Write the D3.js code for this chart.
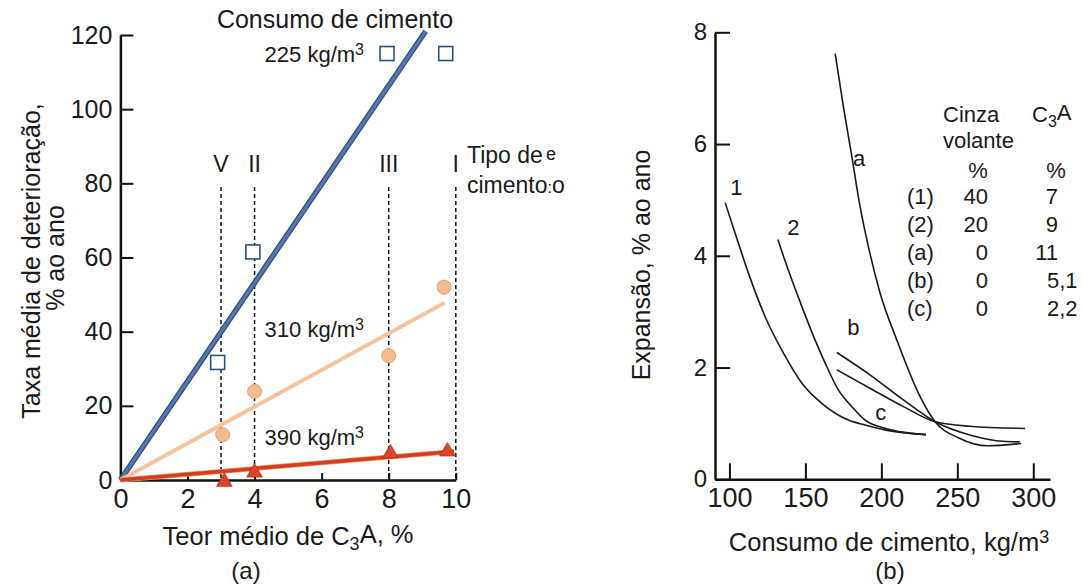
<!DOCTYPE html>
<html>
<head>
<meta charset="utf-8">
<script src="https://cdn.jsdelivr.net/npm/d3@7"></script>
<style>
  body { margin: 0; background: #fff; }
  svg { font-family: "Liberation Sans", Arial, sans-serif; }
  text { fill: #1a1a1a; }
</style>
</head>
<body>
<div id="chart"></div>
<script>
// (a) taxa media de deterioracao x teor de C3A
var c3aTicks = [0, 2, 4, 6, 8, 10];
var rateTicks = [0, 20, 40, 60, 80, 100, 120];
var cementTypes = ["V", "II", "III", "I"];
var cementTypeC3A = [3, 4, 8, 10];
var points225 = [[2.9, 31.7], [3.95, 61.5], [7.95, 115], [9.7, 115]];
var points310 = [[3.05, 12.2], [4.0, 23.9], [8.0, 33.5], [9.65, 52]];
var points390 = [[3.1, -0.5], [4.0, 2], [8.05, 7.2], [9.75, 7.7]];
var fit225 = [[0, 0], [9.1, 121]];
var fit310 = [[0, 0], [9.67, 47.8]];
var fit390 = [[0, 0], [9.95, 7.7]];

// (b) expansao x consumo de cimento
var consumoTicks = [100, 150, 200, 250, 300];
var expansaoTicks = [0, 2, 4, 6, 8];
var curve1 = [[97.2, 4.95], [103.8, 4.4], [112.5, 3.69], [123.5, 2.91], [134.5, 2.31], [147.7, 1.72], [160.8, 1.36], [178.3, 1.06], [189.3, 0.97], [203, 0.88], [229.4, 0.8]];
var curve2 = [[131.9, 4.29], [138.8, 3.74], [147.7, 3.09], [156.4, 2.49], [163, 2.08], [171.7, 1.6], [180.6, 1.3], [189.3, 1.06], [203, 0.91], [215, 0.84], [229.4, 0.8]];
var curveA = [[169.6, 7.62], [175, 6.67], [180.6, 5.77], [186, 4.88], [191.5, 4.16], [199.2, 3.33], [210.2, 2.49], [225.5, 1.48], [235.4, 1.03], [251, 0.74], [270, 0.6], [292, 0.64]];
var curveB = [[170.7, 2.27], [192.5, 1.87], [214.5, 1.42], [235.4, 1.03], [260, 0.78], [280, 0.68], [291, 0.67]];
var curveC = [[170.7, 1.96], [192.5, 1.63], [214.5, 1.3], [235.4, 1.03], [258, 0.95], [294.6, 0.91]];
var curveNames = ["1", "2", "a", "b", "c"];
var tableRows = ["(1)", "(2)", "(a)", "(b)", "(c)"];
var tableCinza = ["40", "20", "0", "0", "0"];
var tableC3A = ["7", "9", "11", "5,1", "2,2"];

var svg = d3.select("#chart").append("svg")
  .attr("width", 1083)
  .attr("height", 588);

function styleAxis(g, size) {
  g.attr("font-family", null).attr("font-size", null);
  g.select(".domain").attr("stroke", "#111").attr("stroke-width", 2.5);
  g.selectAll(".tick line").attr("stroke", "#111").attr("stroke-width", 2);
  g.selectAll(".tick text").attr("fill", "#1a1a1a").style("font-size", size + "px");
}

// ---------- (a) ----------
var xA = d3.scaleLinear().domain([0, 10]).range([120.4, 455.8]);
var yA = d3.scaleLinear().domain([0, 120]).range([480, 35]);

svg.append("g")
  .attr("transform", "translate(" + xA(0) + ",0)")
  .call(d3.axisLeft(yA).tickValues(rateTicks).tickSize(-13).tickSizeOuter(0).tickPadding(8))
  .call(g => styleAxis(g, 25));

svg.append("g")
  .attr("transform", "translate(0," + yA(0) + ")")
  .call(d3.axisBottom(xA).tickValues(c3aTicks).tickSize(-7).tickSizeOuter(0).tickPadding(9))
  .call(g => styleAxis(g, 27));

svg.selectAll(".typeLine")
  .data(cementTypeC3A)
  .enter().append("line")
  .attr("class", "typeLine")
  .attr("x1", d => xA(d)).attr("x2", d => xA(d))
  .attr("y1", yA(79)).attr("y2", yA(0))
  .attr("stroke", "#111")
  .attr("stroke-width", 1.5)
  .attr("stroke-dasharray", "4,3");

svg.selectAll(".typeLabel")
  .data(cementTypes)
  .enter().append("text")
  .attr("class", "typeLabel")
  .attr("x", (d, i) => xA(cementTypeC3A[i]))
  .attr("y", yA(83))
  .attr("text-anchor", "middle")
  .style("font-size", "23px")
  .text(d => d);

var lineA = d3.line().x(d => xA(d[0])).y(d => yA(d[1]));

svg.append("path").datum(fit225).attr("d", lineA)
  .attr("fill", "none").attr("stroke", "#2f4f7f").attr("stroke-width", 5.5);
svg.append("path").datum(fit225).attr("d", lineA)
  .attr("fill", "none").attr("stroke", "#5578aa").attr("stroke-width", 3);
svg.append("path").datum(fit310).attr("d", lineA)
  .attr("fill", "none").attr("stroke", "#f6c39d").attr("stroke-width", 4);
svg.append("path").datum(fit390).attr("d", lineA)
  .attr("fill", "none").attr("stroke", "#e9a14a").attr("stroke-width", 5);
svg.append("path").datum(fit390).attr("d", lineA)
  .attr("fill", "none").attr("stroke", "#d63b2a").attr("stroke-width", 3.5);

svg.selectAll(".sq")
  .data(points225)
  .enter().append("rect")
  .attr("class", "sq")
  .attr("x", d => xA(d[0]) - 7)
  .attr("y", d => yA(d[1]) - 7)
  .attr("width", 14).attr("height", 14)
  .attr("fill", "#fff")
  .attr("stroke", "#2f4f7f")
  .attr("stroke-width", 1.6);

svg.selectAll(".circ")
  .data(points310)
  .enter().append("circle")
  .attr("class", "circ")
  .attr("cx", d => xA(d[0]))
  .attr("cy", d => yA(d[1]))
  .attr("r", 7)
  .attr("fill", "#f3bb8f")
  .attr("stroke", "#dea079")
  .attr("stroke-width", 1);

svg.selectAll(".tri")
  .data(points390)
  .enter().append("path")
  .attr("class", "tri")
  .attr("d", d3.symbol().type(d3.symbolTriangle).size(105))
  .attr("transform", d => "translate(" + xA(d[0]) + "," + yA(d[1]) + ")")
  .attr("fill", "#d9442c")
  .attr("stroke", "#b8321f")
  .attr("stroke-width", 0.8);

svg.append("text")
  .attr("x", 335).attr("y", 28)
  .attr("text-anchor", "middle")
  .style("font-size", "25px")
  .text("Consumo de cimento");

var doseLabels = [["225", 112.7], ["310", 38.6], ["390", 9.4]];
doseLabels.forEach(function (d) {
  var t = svg.append("text")
    .attr("x", xA(4.3)).attr("y", yA(d[1]))
    .style("font-size", "22px");
  t.append("tspan").text(d[0] + " kg/m");
  t.append("tspan").attr("dy", "-0.45em").style("font-size", "16px").text("3");
});

var tipo = svg.append("text").attr("x", 467).attr("y", 163).style("font-size", "23px");
tipo.append("tspan").text("Tipo de");
tipo.append("tspan").attr("dx", 3).attr("dy", -3).style("font-size", "18px").text("e");
var cim = svg.append("text").attr("x", 467).attr("y", 193).style("font-size", "23px");
cim.append("tspan").text("cimento");
cim.append("tspan").style("font-size", "16px").text(":");
cim.append("tspan").text("o");

var xTitleA = svg.append("text")
  .attr("x", 288).attr("y", 545)
  .attr("text-anchor", "middle")
  .style("font-size", "25.5px");
xTitleA.append("tspan").text("Teor médio de C");
xTitleA.append("tspan").attr("dy", "0.3em").style("font-size", "18px").text("3");
xTitleA.append("tspan").attr("dy", "-0.3em").text("A, %");

svg.append("text")
  .attr("x", 246).attr("y", 579)
  .attr("text-anchor", "middle")
  .style("font-size", "24px")
  .text("(a)");

svg.append("text")
  .attr("transform", "translate(40,261) rotate(-90)")
  .attr("text-anchor", "middle")
  .style("font-size", "25px")
  .text("Taxa média de deterioração,");
svg.append("text")
  .attr("transform", "translate(64,258) rotate(-90)")
  .attr("text-anchor", "middle")
  .style("font-size", "25px")
  .text("% ao ano");

// ---------- (b) ----------
var xB = d3.scaleLinear().domain([90.5, 311]).range([715, 1050]);
var yB = d3.scaleLinear().domain([0, 8]).range([479.3, 32.3]);

svg.append("g")
  .attr("transform", "translate(" + xB(90.5) + ",0)")
  .call(d3.axisLeft(yB).tickValues(expansaoTicks).tickSize(-15).tickSizeOuter(0).tickPadding(8))
  .call(g => styleAxis(g, 24));

svg.append("g")
  .attr("transform", "translate(0," + yB(0) + ")")
  .call(d3.axisBottom(xB).tickValues(consumoTicks).tickSize(-16).tickSizeOuter(0).tickPadding(9))
  .call(g => styleAxis(g, 27));

var lineB = d3.line()
  .x(d => xB(d[0]))
  .y(d => yB(d[1]))
  .curve(d3.curveMonotoneX);

[curve1, curve2, curveA, curveB, curveC].forEach(function (c) {
  svg.append("path").datum(c).attr("d", lineB)
    .attr("fill", "none")
    .attr("stroke", "#1a1a1a")
    .attr("stroke-width", 1.6);
});

var curveLabelPos = [[100.5, 5.09], [138, 4.37], [181.4, 5.6], [177.5, 2.58], [195.9, 1.06]];
svg.selectAll(".curveLabel")
  .data(curveNames)
  .enter().append("text")
  .attr("class", "curveLabel")
  .attr("x", (d, i) => xB(curveLabelPos[i][0]))
  .attr("y", (d, i) => yB(curveLabelPos[i][1]))
  .style("font-size", "22px")
  .text(d => d);

// tabela
svg.append("text").attr("x", 943).attr("y", 122).style("font-size", "22px").text("Cinza");
svg.append("text").attr("x", 943).attr("y", 148).style("font-size", "22px").text("volante");
var c3aHead = svg.append("text").attr("x", 1032).attr("y", 122).style("font-size", "22px");
c3aHead.append("tspan").text("C");
c3aHead.append("tspan").attr("dy", "0.3em").style("font-size", "16px").text("3");
c3aHead.append("tspan").attr("dy", "-0.3em").text("A");
svg.append("text").attr("x", 978).attr("y", 178).attr("text-anchor", "middle").style("font-size", "22px").text("%");
svg.append("text").attr("x", 1056).attr("y", 178).attr("text-anchor", "middle").style("font-size", "22px").text("%");

svg.selectAll(".rowName")
  .data(tableRows)
  .enter().append("text")
  .attr("class", "rowName")
  .attr("x", 907)
  .attr("y", (d, i) => 204 + i * 28)
  .style("font-size", "22px")
  .text(d => d);

svg.selectAll(".rowCinza")
  .data(tableCinza)
  .enter().append("text")
  .attr("class", "rowCinza")
  .attr("x", 988)
  .attr("y", (d, i) => 204 + i * 28)
  .attr("text-anchor", "end")
  .style("font-size", "22px")
  .text(d => d);

svg.selectAll(".rowC3A")
  .data(tableC3A)
  .enter().append("text")
  .attr("class", "rowC3A")
  .attr("x", d => d.indexOf(",") >= 0 ? 1047 : 1058)
  .attr("y", (d, i) => 204 + i * 28)
  .attr("text-anchor", d => d.indexOf(",") >= 0 ? "start" : "end")
  .style("font-size", "22px")
  .text(d => d);

var xTitleB = svg.append("text")
  .attr("x", 889).attr("y", 551)
  .attr("text-anchor", "middle")
  .style("font-size", "25.5px");
xTitleB.append("tspan").text("Consumo de cimento, kg/m");
xTitleB.append("tspan").attr("dy", "-0.45em").style("font-size", "18px").text("3");

svg.append("text")
  .attr("x", 890).attr("y", 579)
  .attr("text-anchor", "middle")
  .style("font-size", "24px")
  .text("(b)");

svg.append("text")
  .attr("transform", "translate(650,265) rotate(-90)")
  .attr("text-anchor", "middle")
  .style("font-size", "25px")
  .text("Expansão, % ao ano");
</script>
</body>
</html>
